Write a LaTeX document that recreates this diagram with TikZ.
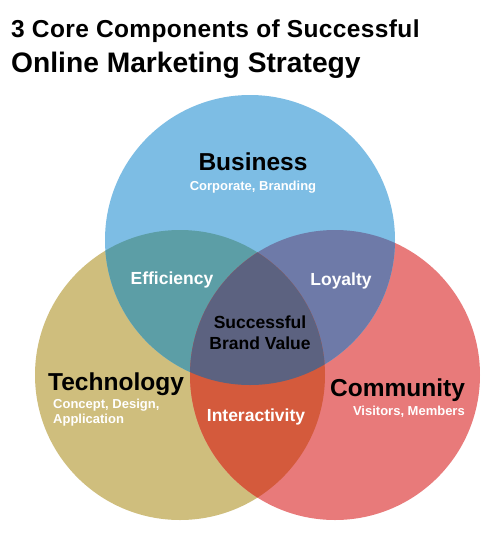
\documentclass[tikz,border=0pt]{standalone}
\usepackage{fontspec}
\setmainfont{Liberation Sans}
\definecolor{cblue}{RGB}{125,189,228}
\definecolor{ckhaki}{RGB}{207,190,125}
\definecolor{cpink}{RGB}{232,122,122}
\definecolor{cteal}{RGB}{92,158,166}
\definecolor{cpurple}{RGB}{110,122,168}
\definecolor{corange}{RGB}{212,90,60}
\definecolor{ccenter}{RGB}{92,98,128}
\tikzset{
  big/.style={font=\bfseries\fontsize{24.5}{26}\selectfont, text=black, inner sep=0pt},
  sub/.style={font=\bfseries\fontsize{13}{15}\selectfont, text=white, inner sep=0pt},
  mid/.style={font=\bfseries\fontsize{17.5}{21}\selectfont, inner sep=0pt},
}
\begin{document}
\begin{tikzpicture}[x=1pt,y=-1pt]
\useasboundingbox[fill=white] (0,0) rectangle (500,550);
\def\pB{(250,240) circle [radius=145pt]}
\def\pT{(180,375) circle [radius=145pt]}
\def\pC{(335,375) circle [radius=145pt]}
\fill[ckhaki] \pT;
\fill[cpink] \pC;
\fill[cblue] \pB;
\begin{scope}\clip \pB; \fill[cteal] \pT; \end{scope}
\begin{scope}\clip \pB; \fill[cpurple] \pC; \end{scope}
\begin{scope}\clip \pT; \fill[corange] \pC; \end{scope}
\begin{scope}\clip \pB; \clip \pT; \fill[ccenter] \pC; \end{scope}
% title
\node[anchor=base west, inner sep=0pt, font=\bfseries\fontsize{24.5}{26}\selectfont\addfontfeature{LetterSpace=1.5}] (t1) at (11,37) {3 Core Components of Successful};
\node[anchor=base west, inner sep=0pt, font=\bfseries\fontsize{28.2}{30}\selectfont] (t2) at (11,72) {Online Marketing Strategy};
% labels
\node[big, anchor=base] (bus) at (253,170) {Business};
\node[sub, anchor=base] (bussub) at (253,190) {Corporate, Branding};
\node[big, anchor=base west] (tech) at (48,390) {Technology};
\node[sub, anchor=north west, align=left] (techsub) at (53,399) {Concept, Design,\\Application};
\node[big, anchor=base] (com) at (397.5,396) {Community};
\node[sub, anchor=base east] (comsub) at (465,415) {Visitors, Members};
\node[mid, text=white, anchor=base] (eff) at (172,284) {Efficiency};
\node[mid, text=white, anchor=base] (loy) at (341,285) {Loyalty};
\node[mid, text=black, align=center] (core) at (260,333) {Successful\\Brand Value};
\node[mid, text=white, anchor=base] (inter) at (256,421) {Interactivity};
\end{tikzpicture}
\end{document}
